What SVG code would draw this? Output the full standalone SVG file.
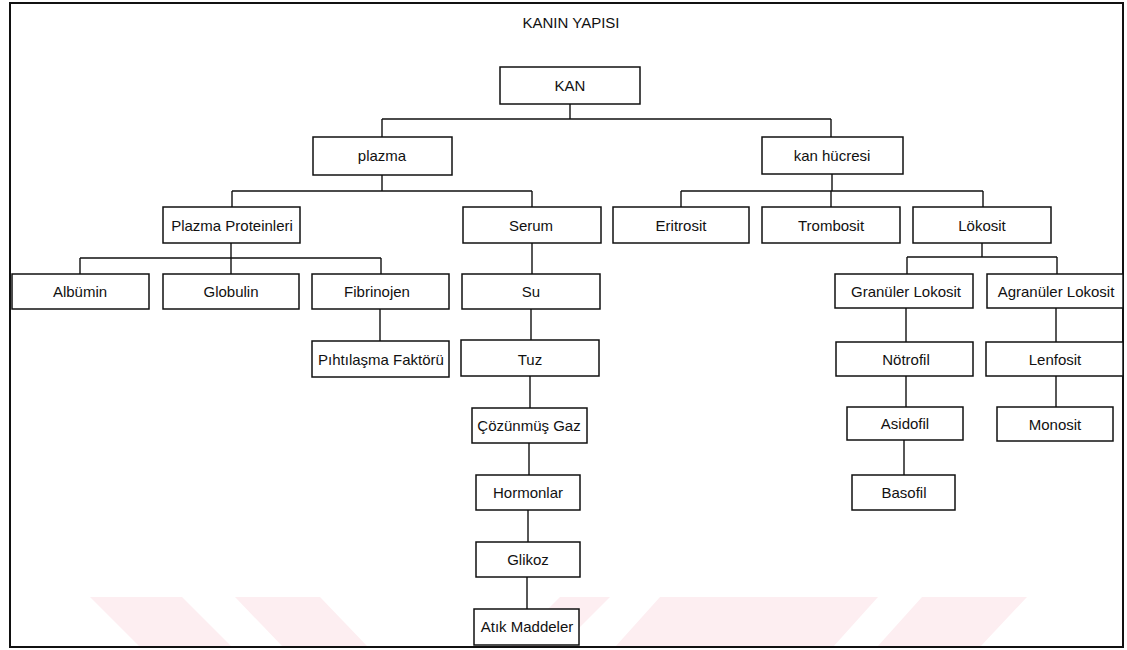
<svg xmlns="http://www.w3.org/2000/svg" width="1127" height="650" viewBox="0 0 1127 650">
<style>
  .box rect { fill: #ffffff; stroke: #111111; stroke-width: 1.5; }
  .box text, .title { font-family: "Liberation Sans", Arial, sans-serif; font-size: 15px; fill: #111111; text-anchor: middle; }
  .conn path { fill: none; stroke: #111111; stroke-width: 1.4; }
  .wm { fill: #fdeef1; }
</style>
<rect x="0" y="0" width="1127" height="650" fill="#ffffff"/>
<g id="watermark">
  <polygon class="wm" points="90,597 182,597 232,647 140,647"/>
  <polygon class="wm" points="235,597 320,597 368,647 283,647"/>
  <polygon class="wm" points="560,597 610,597 560,647 510,647"/>
  <polygon class="wm" points="660,597 878,597 833,647 615,647"/>
  <polygon class="wm" points="922,597 1027,597 980,647 877,647"/>
</g>
<rect id="frame" x="10" y="3" width="1113" height="644" fill="none" stroke="#111111" stroke-width="2"/>
<text class="title" x="571" y="28">KANIN YAPISI</text>
<g id="connectors" class="conn">
  <path d="M570,104 V119 M382,119 H831 M382,119 V137 M831,119 V137"/>
  <path d="M382,175 V191 M232,191 H532 M232,191 V207 M532,191 V207"/>
  <path d="M832,174 V191 M681,191 H983 M681,191 V207 M831,191 V207 M983,191 V207"/>
  <path d="M231,243 V258 M80,258 H381 M80,258 V274 M231,258 V274 M381,258 V274"/>
  <path d="M982,243 V257 M907,257 H1057 M907,257 V274 M1057,257 V274"/>
  <path d="M380,309 V341"/>
  <path d="M532,243 V274 M531,309 V340 M530,376 V408 M529,443 V475 M528,510 V542 M527,577 V609"/>
  <path d="M906,308 V342 M906,376 V407 M904,440 V475"/>
  <path d="M1056,308 V342 M1056,376 V407"/>
</g>
<g id="kan" class="box"><rect x="500" y="67" width="140" height="37"/><text x="570" y="91">KAN</text></g>
<g id="plazma" class="box"><rect x="313" y="137" width="139" height="38"/><text x="382" y="161">plazma</text></g>
<g id="kan-hucresi" class="box"><rect x="762" y="137" width="141" height="37"/><text x="832" y="161">kan hücresi</text></g>
<g id="plazma-proteinleri" class="box"><rect x="163" y="207" width="137" height="36"/><text x="232" y="231">Plazma Proteinleri</text></g>
<g id="serum" class="box"><rect x="463" y="207" width="138" height="36"/><text x="531" y="231">Serum</text></g>
<g id="eritrosit" class="box"><rect x="613" y="207" width="136" height="36"/><text x="681" y="231">Eritrosit</text></g>
<g id="trombosit" class="box"><rect x="762" y="207" width="138" height="36"/><text x="831" y="231">Trombosit</text></g>
<g id="lokosit" class="box"><rect x="913" y="207" width="138" height="36"/><text x="982" y="231">Lökosit</text></g>
<g id="albumin" class="box"><rect x="12" y="274" width="137" height="35"/><text x="80" y="297">Albümin</text></g>
<g id="globulin" class="box"><rect x="163" y="274" width="136" height="35"/><text x="231" y="297">Globulin</text></g>
<g id="fibrinojen" class="box"><rect x="312" y="274" width="137" height="35"/><text x="377" y="297">Fibrinojen</text></g>
<g id="su" class="box"><rect x="462" y="274" width="138" height="35"/><text x="531" y="297">Su</text></g>
<g id="granuler-lokosit" class="box"><rect x="835" y="274" width="138" height="34"/><text x="906" y="297">Granüler Lokosit</text></g>
<g id="agranuler-lokosit" class="box"><rect x="987" y="274" width="136" height="34"/><text x="1056" y="297">Agranüler Lokosit</text></g>
<g id="pihtilasma-faktoru" class="box"><rect x="312" y="341" width="137" height="36"/><text x="381" y="365">Pıhtılaşma Faktörü</text></g>
<g id="tuz" class="box"><rect x="461" y="340" width="138" height="36"/><text x="530" y="365">Tuz</text></g>
<g id="notrofil" class="box"><rect x="836" y="342" width="137" height="34"/><text x="906" y="365">Nötrofil</text></g>
<g id="lenfosit" class="box"><rect x="986" y="342" width="137" height="34"/><text x="1055" y="365">Lenfosit</text></g>
<g id="cozunmus-gaz" class="box"><rect x="472" y="408" width="115" height="35"/><text x="529" y="431">Çözünmüş Gaz</text></g>
<g id="asidofil" class="box"><rect x="847" y="407" width="116" height="33"/><text x="905" y="429">Asidofil</text></g>
<g id="monosit" class="box"><rect x="997" y="407" width="116" height="34"/><text x="1055" y="430">Monosit</text></g>
<g id="hormonlar" class="box"><rect x="476" y="475" width="104" height="35"/><text x="528" y="498">Hormonlar</text></g>
<g id="basofil" class="box"><rect x="852" y="475" width="103" height="35"/><text x="904" y="498">Basofil</text></g>
<g id="glikoz" class="box"><rect x="476" y="542" width="104" height="35"/><text x="528" y="565">Glikoz</text></g>
<g id="atik-maddeler" class="box"><rect x="474" y="609" width="105" height="36"/><text x="527" y="632">Atık Maddeler</text></g>
</svg>
